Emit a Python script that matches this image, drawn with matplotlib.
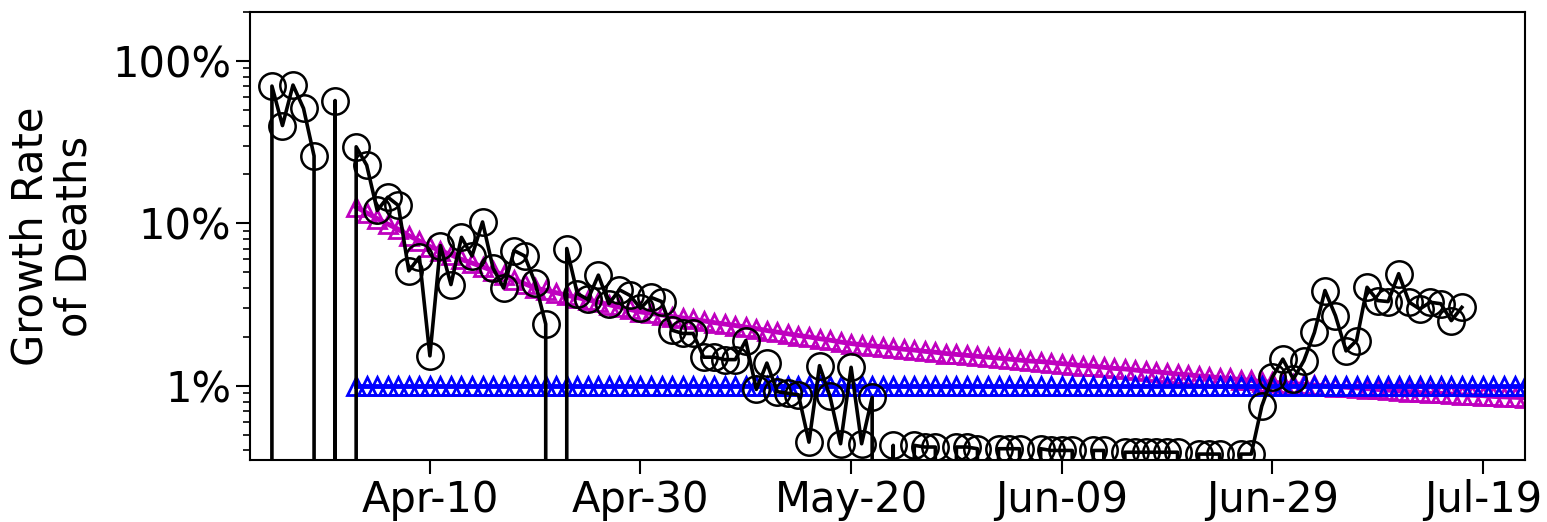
#!/usr/bin/env python3

import matplotlib
matplotlib.use("Agg")
import matplotlib.pyplot as plt
import matplotlib.dates as mdates
import matplotlib.ticker as mticker
import numpy as np

# daily growth rate of deaths [%], 0 = no new deaths that day
obsStart = "2020-03-25"
obsRate = [
    0, 70, 40, 71, 51, 26, 0,                                   # Mar 25-31
    57, 0, 29.6, 22.8, 12, 14.5, 12.9, 5.1, 6.2, 1.53,         # Apr 1-10
    7.3, 4.2, 8.2, 6.3, 10.2, 5.3, 4.0, 6.8, 6.3, 4.3,         # Apr 11-20
    2.4, 0, 7.0, 3.7, 3.4, 4.8, 3.2, 3.9, 3.6, 3.0,            # Apr 21-30
    3.5, 3.3, 2.2, 2.1, 2.1, 1.5, 1.5, 1.45, 1.45, 1.9,        # May 1-10
    0.95, 1.38, 0.92, 0.9, 0.88, 0.45, 1.33, 0.86, 0.44, 1.3,  # May 11-20
    0.44, 0.85, 0, 0.43, 0, 0.43, 0.42, 0.42, 0, 0.42, 0.42,   # May 21-31
    0.41, 0, 0.41, 0.41, 0.41, 0, 0.41, 0.40, 0.40, 0.40,      # Jun 1-10
    0, 0.40, 0.40, 0, 0.39, 0.39, 0.39, 0.39, 0.39, 0.39,      # Jun 11-20
    0, 0.38, 0.38, 0.38, 0, 0.38, 0.38, 0.75, 1.13, 1.46,      # Jun 21-30
    1.1, 1.43, 2.13, 3.86, 2.7, 1.64, 1.9, 4.04, 3.35, 3.3,    # Jul 1-10
    4.9, 3.27, 2.97, 3.27, 3.2, 2.52, 3.04,                    # Jul 11-17
]

# fitted (decaying) growth rate [%]
fitStart = "2020-04-03"
fitRate = [
    12.6, 11.6, 10.7, 9.9, 9.2, 8.4, 7.8, 7.2,                   # Apr 3-10
    6.8, 6.4, 6.0, 5.7, 5.4, 5.1, 4.8, 4.5, 4.25, 4.0,           # Apr 11-20
    3.87, 3.74, 3.61, 3.49, 3.38, 3.27, 3.16, 3.05, 2.95, 2.85,  # Apr 21-30
    2.79, 2.73, 2.67, 2.62, 2.56, 2.51, 2.45, 2.40, 2.35, 2.30,  # May 1-10
    2.25, 2.19, 2.14, 2.09, 2.04, 2.0, 1.95, 1.91, 1.86, 1.82,   # May 11-20
    1.79, 1.76, 1.74, 1.71, 1.68, 1.66, 1.63, 1.61, 1.58, 1.56, 1.54,  # May 21-31
    1.52, 1.50, 1.48, 1.46, 1.44, 1.42, 1.41, 1.39, 1.37, 1.35,  # Jun 1-10
    1.33, 1.32, 1.30, 1.28, 1.27, 1.25, 1.23, 1.22, 1.20, 1.18,  # Jun 11-20
    1.17, 1.15, 1.14, 1.12, 1.11, 1.09, 1.08, 1.06, 1.05, 1.04,  # Jun 21-30
    1.03, 1.02, 1.01, 1.0, 0.99, 0.98, 0.97, 0.96, 0.95, 0.94,   # Jul 1-10
    0.93, 0.92, 0.91, 0.90, 0.90, 0.89, 0.88, 0.875, 0.87, 0.86, # Jul 11-20
    0.855, 0.85, 0.845, 0.84,                                    # Jul 21-24
]

# reference growth rate [%]
refStart = "2020-04-03"
refRate = [1.0] * len(fitRate)

xTicks = ["2020-04-10", "2020-04-30", "2020-05-20", "2020-06-09", "2020-06-29", "2020-07-19"]


def dayRange(start, n):
    return np.datetime64(start) + np.arange(n)


def plotGrowth(outFile):

    fig = plt.figure(figsize=(15.47, 5.22), dpi=100)
    ax = fig.add_axes([0.1616, 0.119, 0.8242, 0.858])

    ax.plot(dayRange(fitStart, len(fitRate)), fitRate, color="m", lw=3.5,
            marker="^", ms=13, mfc="none", mew=2.0, zorder=2)
    ax.plot(dayRange(refStart, len(refRate)), refRate, color="b", lw=3.5,
            marker="^", ms=13, mfc="none", mew=2.0, zorder=2)
    ax.plot(dayRange(obsStart, len(obsRate)), obsRate, color="k", lw=2.6,
            marker="o", ms=19, mfc="none", mew=1.8, zorder=3)

    ax.set_yscale("log")
    ax.set_ylim(0.35, 200)
    ax.set_xlim(np.datetime64("2020-03-23T22"), np.datetime64("2020-07-23T00"))

    ax.yaxis.set_major_locator(mticker.FixedLocator([1, 10, 100]))
    ax.yaxis.set_major_formatter(mticker.FuncFormatter(lambda v, p: "%d%%" % v))
    ax.yaxis.set_minor_locator(mticker.LogLocator(subs=np.arange(2, 10)))
    ax.yaxis.set_minor_formatter(mticker.NullFormatter())

    ax.set_xticks([np.datetime64(t) for t in xTicks])
    ax.xaxis.set_major_formatter(mdates.DateFormatter("%b-%d"))

    ax.tick_params(which="major", labelsize=30, length=10, width=1.5)
    ax.tick_params(which="minor", length=5, width=1.2)
    for sp in ax.spines.values():
        sp.set_linewidth(1.5)

    ax.set_ylabel("Growth Rate\nof Deaths", fontsize=30, labelpad=12, linespacing=1.05)

    fig.savefig(outFile, dpi=100)
    return


if __name__ == "__main__":
    plotGrowth("out.png")

# END Main
